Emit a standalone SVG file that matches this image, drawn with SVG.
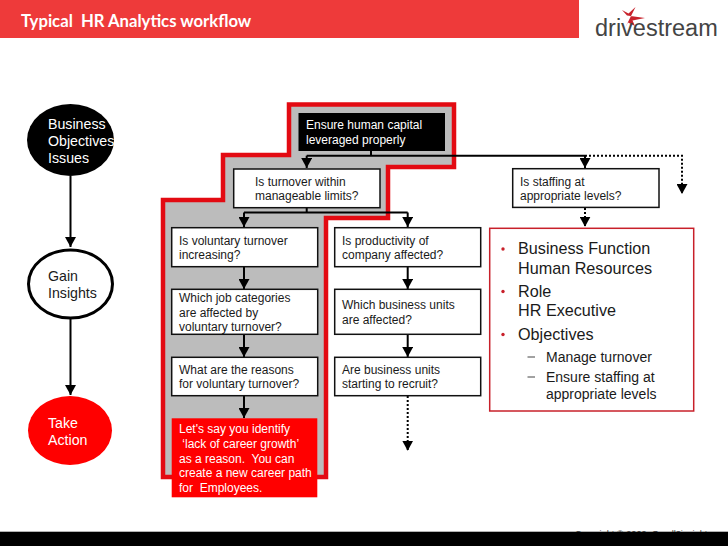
<svg xmlns="http://www.w3.org/2000/svg" width="728" height="546" viewBox="0 0 728 546">
<style>
text{font-family:"Liberation Sans",Arial,sans-serif;fill:#1a1a1a}
.b{font-size:12px}
.e{font-size:14.2px}
.w{fill:#fff}
.box{fill:#fff;stroke:#111;stroke-width:1.5}
.l{fill:none;stroke:#000;stroke-width:2}
.d{fill:none;stroke:#000;stroke-width:2;stroke-dasharray:2 2}
.big{font-size:16.2px}
.mid{font-size:14px}
</style>
<defs>
<marker id="a" markerUnits="userSpaceOnUse" markerWidth="12" markerHeight="11" refX="10" refY="5.500" orient="auto"><path d="M0 0L10 5.500L0 11Z" fill="#000"/></marker>
</defs>
<rect width="728" height="546" fill="#fff"/>
<g id="header">
<rect width="579" height="38" fill="#ee3a3a"/>
<text x="21" y="26.500" style="font-family:Lato,sans-serif;font-weight:700;font-size:16.700px;fill:#fff" xml:space="preserve">Typical  HR Analytics workflow</text>
</g>
<g id="logo">
<path d="M635.500 7L628.500 13.500L622 10L627 15.500L645 18L632.500 20.500L635 26L628 22.500L625 28L630 18Z" fill="#c8232c"/>
<text x="595" y="36" style="font-size:23.500px;fill:#444">drivestream</text>
</g>
<path id="highlight" d="M289 104.500H454V167H388V218H326V477H163V200H223V155H289Z" fill="#bcbcbc" stroke="#e30a12" stroke-width="4.500"/>
<g id="connectors">
<path class="l" d="M70.500 176V247" marker-end="url(#a)"/>
<path class="l" d="M70.500 319V395" marker-end="url(#a)"/>
<path class="l" d="M371 151V155.700"/>
<path class="l" d="M306.700 155.700H585"/>
<path class="l" d="M306.700 155.700V168" marker-end="url(#a)"/>
<path class="l" d="M585 155.700V168" marker-end="url(#a)"/>
<path class="d" d="M585 155.700H682V194" marker-end="url(#a)"/>
<path class="d" d="M585 208V226.700" marker-end="url(#a)"/>
<path class="l" d="M306.700 208V212.500"/>
<path class="l" d="M244 212.500H407.700"/>
<path class="l" d="M244 212.500V227" marker-end="url(#a)"/>
<path class="l" d="M407.700 212.500V227" marker-end="url(#a)"/>
<path class="l" d="M244 267V289" marker-end="url(#a)"/>
<path class="l" d="M244 334V357" marker-end="url(#a)"/>
<path class="l" d="M244 396V418" marker-end="url(#a)"/>
<path class="l" d="M407.700 267V289" marker-end="url(#a)"/>
<path class="l" d="M407.700 334V357" marker-end="url(#a)"/>
<path class="d" d="M407.700 396V450.700" marker-end="url(#a)"/>
</g>
<g id="business"><ellipse cx="70.500" cy="140" rx="43.500" ry="36" fill="#000"/>
<text class="e w" x="48" y="129">Business</text><text class="e w" x="48" y="146">Objectives</text><text class="e w" x="48" y="163">Issues</text></g>
<g id="gain"><ellipse cx="70.500" cy="284" rx="42" ry="34" fill="#fff" stroke="#000" stroke-width="3"/>
<text class="e" x="48" y="281">Gain</text><text class="e" x="48" y="298">Insights</text></g>
<g id="take"><ellipse cx="70" cy="430.500" rx="42" ry="34.500" fill="#f00"/>
<text class="e w" x="48" y="428">Take</text><text class="e w" x="48" y="445">Action</text></g>
<g id="ensure"><rect x="298.500" y="113" width="146.500" height="38" fill="#000"/>
<text class="b w" x="306" y="129">Ensure human capital</text><text class="b w" x="306" y="144">leveraged properly</text></g>
<g id="turnover"><rect class="box" x="233.700" y="169" width="146.300" height="38.700"/>
<text class="b" x="255" y="186">Is turnover within</text><text class="b" x="255" y="200">manageable limits?</text></g>
<g id="staffing"><rect class="box" x="512.700" y="168.700" width="146.300" height="38.700"/>
<text class="b" x="520" y="186">Is staffing at</text><text class="b" x="520" y="200">appropriate levels?</text></g>
<g id="voluntary"><rect class="box" x="171.700" y="227.700" width="146" height="39"/>
<text class="b" x="179" y="245">Is voluntary turnover</text><text class="b" x="179" y="259">increasing?</text></g>
<g id="productivity"><rect class="box" x="334.700" y="227.700" width="146" height="39"/>
<text class="b" x="342" y="245">Is productivity of</text><text class="b" x="342" y="259">company affected?</text></g>
<g id="categories"><rect class="box" x="171.700" y="289.300" width="146" height="45"/>
<text class="b" x="179" y="302">Which job categories</text><text class="b" x="179" y="317">are affected by</text><text class="b" x="179" y="331">voluntary turnover?</text></g>
<g id="units"><rect class="box" x="334.700" y="289.300" width="146" height="45"/>
<text class="b" x="342" y="309">Which business units</text><text class="b" x="342" y="324">are affected?</text></g>
<g id="reasons"><rect class="box" x="171.700" y="357.300" width="146" height="38.400"/>
<text class="b" x="179" y="374">What are the reasons</text><text class="b" x="179" y="388">for voluntary turnover?</text></g>
<g id="recruit"><rect class="box" x="334.700" y="357.300" width="146" height="38.400"/>
<text class="b" x="342" y="374">Are business units</text><text class="b" x="342" y="388">starting to recruit?</text></g>
<g id="identify"><rect x="171.700" y="418.300" width="145.600" height="79" fill="#f00"/>
<text class="b w" x="179" y="433">Let's say you identify</text><text class="b w" x="179" y="448" xml:space="preserve"> ‘lack of career growth’</text><text class="b w" x="179" y="463" xml:space="preserve">as a reason.  You can</text><text class="b w" x="179" y="477">create a new career path</text><text class="b w" x="179" y="492" xml:space="preserve">for  Employees.</text></g>
<g id="details"><rect x="489.700" y="228.300" width="204" height="182.700" fill="#fff" stroke="#c8202a" stroke-width="1.500"/>
<circle cx="503" cy="249" r="1.700" fill="#c8202a"/><circle cx="503" cy="291.500" r="1.700" fill="#c8202a"/><circle cx="503" cy="334.500" r="1.700" fill="#c8202a"/>
<path d="M527.500 357H535M527.500 377H535" stroke="#444" stroke-width="1"/>
<text class="big" x="518" y="254">Business Function</text><text class="big" x="518" y="274">Human Resources</text><text class="big" x="518" y="297">Role</text><text class="big" x="518" y="316">HR Executive</text><text class="big" x="518" y="340">Objectives</text>
<text class="mid" x="546" y="362">Manage turnover</text><text class="mid" x="546" y="382">Ensure staffing at</text><text class="mid" x="546" y="399">appropriate levels</text></g>
<g id="footer"><text x="575" y="536.500" style="font-size:9.200px;fill:#444">Copyright © 2009, Orcall?insights</text><rect y="531.700" width="728" height="14.300" fill="#000"/></g>
</svg>
